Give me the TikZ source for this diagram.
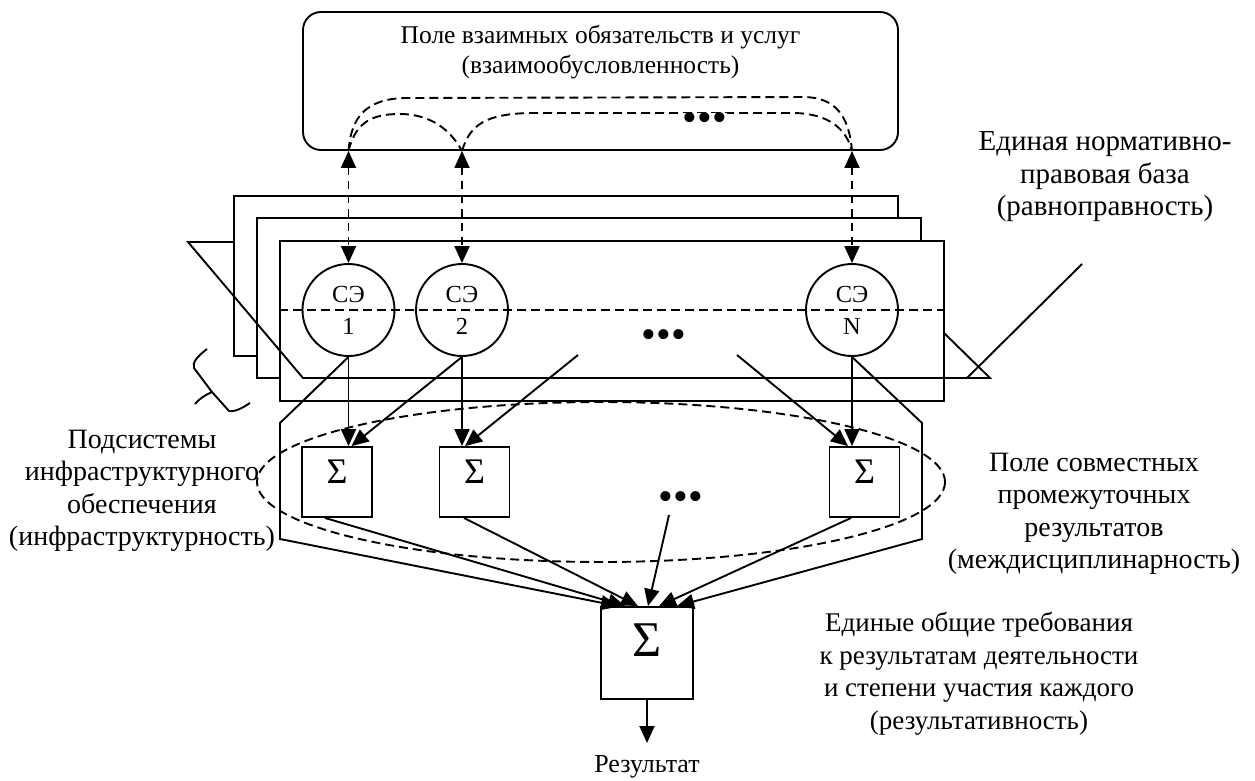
\documentclass[tikz,border=0pt]{standalone}
\usepackage{fontspec}
\setmainfont{Liberation Serif}
\usetikzlibrary{arrows.meta,calc}
\begin{document}
\begin{tikzpicture}[x=1pt,y=-1pt,
  line width=1.9pt,
  tip/.style={-{Triangle[length=17pt,width=15pt]}},
  dtip/.style={{Triangle[length=17pt,width=15pt]}-{Triangle[length=17pt,width=15pt]}, dash pattern=on 8pt off 6pt},
  dsh/.style={dash pattern=on 9pt off 5pt},
  lbl/.style={align=center, font=\fontsize{28}{32.5}\selectfont, inner sep=0pt},
  dots/.style={font=\fontsize{42}{42}\selectfont, inner sep=1pt},
  ce/.style={circle, draw, minimum size=92pt, inner sep=0pt, align=center, font=\fontsize{24.5}{32}\selectfont},
  sbox/.style={draw, fill=white, minimum size=70pt, inner sep=0pt, font=\fontsize{36}{36}\selectfont, text depth=20pt},
  bbox/.style={draw, fill=white, minimum size=92pt, inner sep=0pt, font=\fontsize{50}{50}\selectfont, text depth=26pt},
  plate/.style={draw, fill=white, minimum width=664pt, minimum height=160pt, inner sep=0pt},
]
\useasboundingbox (0,0) rectangle (1255,780);

% top field
\node[draw, rounded corners=18pt, minimum width=595pt, minimum height=138pt, inner sep=0pt] (topbox) at (600.5,81) {};
\node[lbl, font=\fontsize{25.5}{30}\selectfont] (lblTop) at (600.5,52) {Поле взаимных обязательств и услуг\\(взаимообусловленность)};

% plates
\node[plate] (back) at (566,276) {};
\node[plate] (mid) at (589,298) {};
\node[plate] (front) at (612,321) {};

% plane
\coordinate (p1) at (188,242);
\coordinate (p2) at (303,378);
\coordinate (p3) at (990,378);
\coordinate (p4) at (944,333);
\draw (back.west |- p1) -- (p1) -- (p2) -- (p3) -- (p4);
\coordinate (lead1) at (967,378);
\coordinate (lead2) at (1082,264);
\draw (lead1) -- (lead2);

% squiggle
\draw (207,349) .. controls (198,356) and (192,362) .. (194,368) -- (212,392) .. controls (205,395) and (199,399) .. (195,404);
\draw (212,392) -- (229,411) .. controls (237,412) and (245,406) .. (250,403);

% dashed middle line
\draw[dsh] (front.west |- 0,310) -- (front.east |- 0,310);

% circles
\node[ce] (ce1) at (348.5,310) {СЭ\\1};
\node[ce] (ce2) at (462,310) {СЭ\\2};
\node[ce] (ceN) at (852,310) {СЭ\\N};
\node[dots] (dotsMid) at (664,339) {•••};

% top dashed links
\coordinate (t1) at (ce1.north |- topbox.south);
\coordinate (t2) at (ce2.north |- topbox.south);
\coordinate (tN) at (ceN.north |- topbox.south);
\draw[dtip] (t1) -- (ce1.north);
\draw[dtip] (t2) -- (ce2.north);
\draw[dtip] (tN) -- (ceN.north);
\draw[dsh] (t1) .. controls (351,118) and (365,99) .. (405,98) -- (805,97) .. controls (835,98) and (849,115) .. (tN);
\draw[dsh] (t1) .. controls (356,120) and (375,114) .. (400,114) .. controls (425,114) and (448,125) .. (t2);
\draw[dsh] (t2) .. controls (470,125) and (485,114) .. (530,113) -- (795,113) .. controls (828,114) and (846,128) .. (tN);
\node[dots, fill=white, inner sep=0pt] (dotsTop) at (705,122) {•••};

% sum boxes
\node[sbox] (s1) at (337,482) {Σ};
\node[sbox] (s2) at (474.5,482) {Σ};
\node[sbox] (sN) at (864.5,482) {Σ};
\node[dots] (dotsLow) at (681,501) {•••};
\node[bbox] (big) at (647,653) {Σ};

% dashed field ellipse
\draw[dsh] (601,482) ellipse [x radius=344, y radius=80];

% funnel
\coordinate (fl1) at (280,423);
\coordinate (fl2) at (280,539);
\coordinate (fr1) at (922,423);
\coordinate (fr2) at (922,539);
\draw[tip] (ce1.south) -- (fl1) -- (fl2) -- ([xshift=-29pt]big.north);
\draw[tip] (ceN.south) -- (fr1) -- (fr2) -- ([xshift=30pt]big.north);

% arrows into small boxes
\coordinate (d1) at (578,355);
\coordinate (d2) at (737,355);
\draw[tip] (ce1.south) -- (ce1.south |- s1.north);
\draw[tip] (ce2.south) -- (ce2.south |- s2.north);
\draw[tip] (ceN.south) -- (ceN.south |- sN.north);
\draw[tip] (ce2.south) -- ([xshift=3pt]ce1.south |- s1.north);
\draw[tip] (d1) -- ([xshift=3pt]ce2.south |- s2.north);
\draw[tip] (d2) -- ([xshift=-4pt]ceN.south |- sN.north);

% arrows into big box
\coordinate (d3) at (669,515);
\draw[tip] ([xshift=-12pt]s1.south) -- ([xshift=-22pt]big.north);
\draw[tip] ([xshift=-10.5pt]s2.south) -- ([xshift=-9pt]big.north);
\draw[tip] (d3) -- ([xshift=1pt]big.north);
\draw[tip] ([xshift=-13.5pt]sN.south) -- ([xshift=12pt]big.north);

% output
\coordinate (out) at (647,743);
\draw[tip] (big.south) -- (out);

% labels
\node[lbl, font=\fontsize{29}{32.5}\selectfont] (lblNorm) at (1105,177) {Единая нормативно-\\правовая база\\(равноправность)};
\node[lbl] (lblSub) at (142,491) {Подсистемы\\инфраструктурного\\обеспечения\\(инфраструктурность)};
\node[lbl] (lblField) at (1094,514) {Поле совместных\\промежуточных\\результатов\\(междисциплинарность)};
\node[lbl, font=\fontsize{27}{32.5}\selectfont] (lblReq) at (979,673.5) {Единые общие требования\\к результатам деятельности\\и степени участия каждого\\(результативность)};
\node[lbl, font=\fontsize{26}{30}\selectfont] (lblRes) at (647,767) {Результат};
\end{tikzpicture}
\end{document}
